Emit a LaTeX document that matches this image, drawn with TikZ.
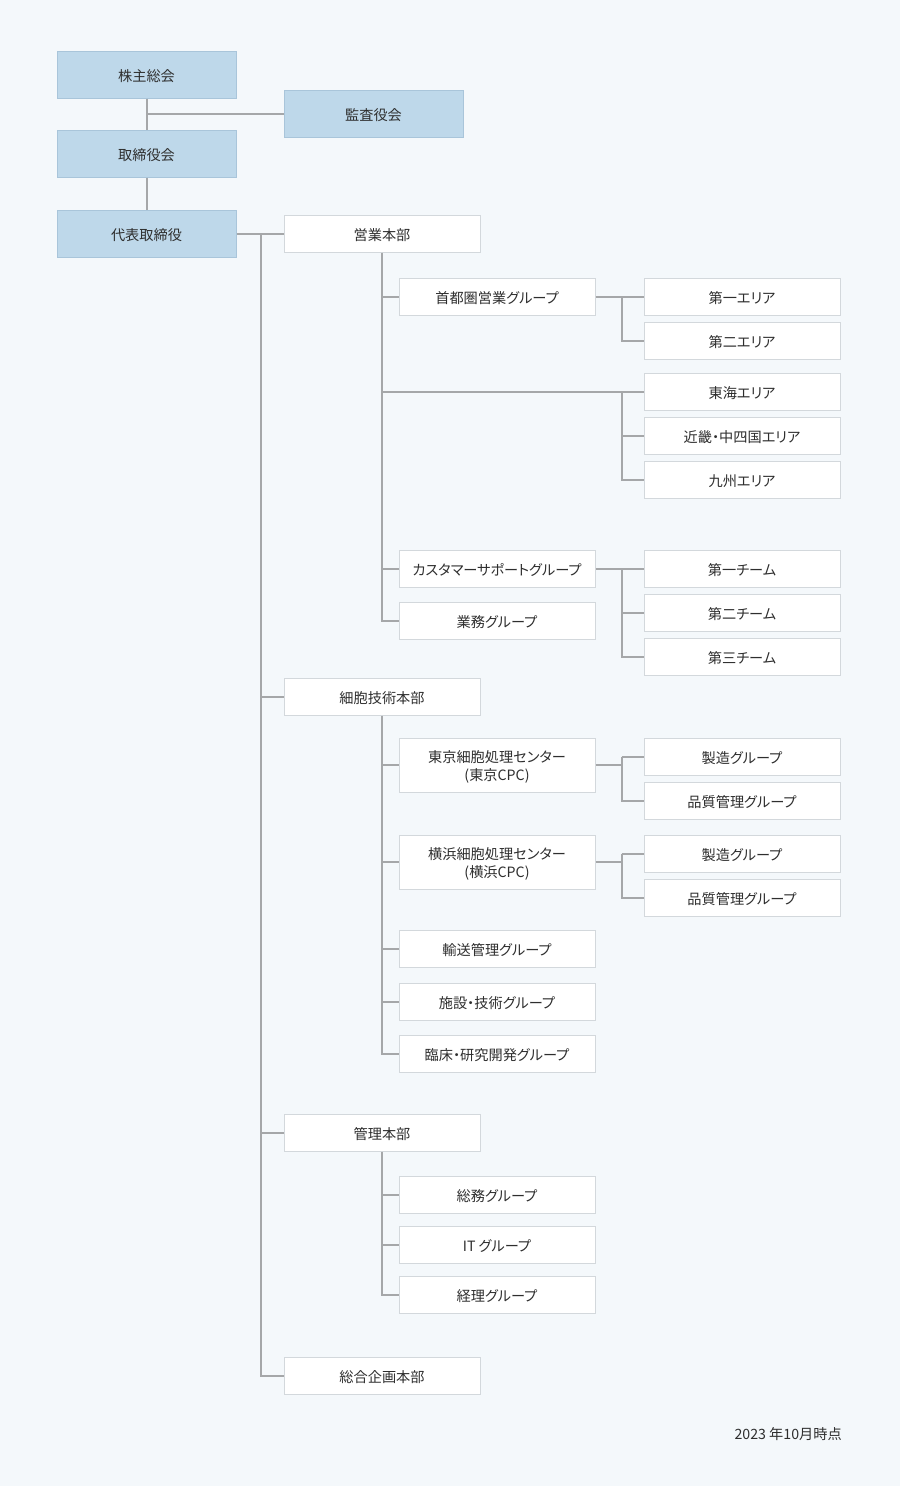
\documentclass[tikz,border=0pt]{standalone}
\usepackage{fontspec}
\setmainfont[RawFeature=+palt]{Noto Sans CJK JP}
\usetikzlibrary{calc}
\definecolor{bgcol}{HTML}{F4F8FB}
\definecolor{topfill}{HTML}{BED8EA}
\definecolor{topline}{HTML}{A9C5DA}
\definecolor{unitline}{HTML}{D3D8DC}
\definecolor{linecol}{HTML}{A5A7A9}
\definecolor{txtcol}{HTML}{2E2E2E}
\newcommand{\toplift}{\rule{0pt}{16.5pt}}

\begin{document}
\begin{tikzpicture}[x=1pt,y=-1pt]
        \tikzstyle{every node}+=[inner sep=0pt, text=txtcol, font=\fontsize{14.2}{18}\selectfont]
        \tikzstyle{oneline}=[text height=14.5pt, text depth=0.7pt]
        \tikzstyle{topbox}=[oneline, draw=topline, fill=topfill, line width=1pt, minimum width=179pt, minimum height=47pt]
        \tikzstyle{unitbox}=[oneline, draw=unitline, fill=white, line width=1pt, minimum width=196pt, minimum height=37pt]
        \tikzstyle{tallbox}=[draw=unitline, fill=white, line width=1pt, minimum width=196pt, minimum height=54pt, align=center]
        \tikzstyle{link}=[draw=linecol, line width=2pt]
        \fill [bgcol] (0,0) rectangle (900,1486);
        \node [topbox] (kabunushi) at (146.5,74.5) {株主総会};
        \node [topbox] (kansa) at (373.5,114) {監査役会};
        \node [topbox] (torishimari) at (146.5,153.5) {取締役会};
        \node [topbox] (daihyo) at (146.5,233.5) {代表取締役};
        \node [unitbox] (eigyo) at (382,233.5) {営業本部};
        \node [unitbox] (shuto) at (497,296.5) {首都圏営業グループ};
        \node [unitbox] (area1) at (742,296.5) {第一エリア};
        \node [unitbox] (area2) at (742,340.5) {第二エリア};
        \node [unitbox] (tokai) at (742,391.5) {東海エリア};
        \node [unitbox] (kinki) at (742,435.5) {近畿・中四国エリア};
        \node [unitbox] (kyushu) at (742,479.5) {九州エリア};
        \node [unitbox] (support) at (497,568.5) {カスタマーサポートグループ};
        \node [unitbox] (team1) at (742,568.5) {第一チーム};
        \node [unitbox] (team2) at (742,612.5) {第二チーム};
        \node [unitbox] (team3) at (742,656.5) {第三チーム};
        \node [unitbox] (gyomu) at (497,620.5) {業務グループ};
        \node [unitbox] (saibo) at (382,696.5) {細胞技術本部};
        \node [tallbox] (tcpc) at (497,765) {\toplift 東京細胞処理センター\\(東京CPC)};
        \node [unitbox] (tseizo) at (742,756.5) {製造グループ};
        \node [unitbox] (thinshitsu) at (742,800.5) {品質管理グループ};
        \node [tallbox] (ycpc) at (497,862) {\toplift 横浜細胞処理センター\\(横浜CPC)};
        \node [unitbox] (yseizo) at (742,853.5) {製造グループ};
        \node [unitbox] (yhinshitsu) at (742,897.5) {品質管理グループ};
        \node [unitbox] (yuso) at (497,948.5) {輸送管理グループ};
        \node [unitbox] (shisetsu) at (497,1001.5) {施設・技術グループ};
        \node [unitbox] (rinsho) at (497,1053.5) {臨床・研究開発グループ};
        \node [unitbox] (kanri) at (382,1132.5) {管理本部};
        \node [unitbox] (somu) at (497,1194.5) {総務グループ};
        \node [unitbox] (itgrp) at (497,1244.5) {IT グループ};
        \node [unitbox] (keiri) at (497,1294.5) {経理グループ};
        \node [unitbox] (kikaku) at (382,1375.5) {総合企画本部};
        \node [oneline, anchor=east] (asof) at (842,1432.5) {2023 年10月時点};
        \coordinate (spine) at (261,0);
        \draw [link] (kabunushi.south) -- (torishimari.north);
        \draw [link] (kansa.west) -- (kabunushi.south |- kansa.west);
        \draw [link] (torishimari.south) -- (daihyo.north);
        \draw [link] (daihyo.east) -- (eigyo.west);
        \draw [link] (spine |- eigyo.west) |- (kikaku.west);
        \draw [link] (spine |- saibo.west) -- (saibo.west);
        \draw [link] (spine |- kanri.west) -- (kanri.west);
        \draw [link] (eigyo.south) |- (gyomu.west);
        \draw [link] (eigyo.south |- shuto.west) -- (shuto.west);
        \draw [link] (eigyo.south |- support.west) -- (support.west);
        \draw [link] (eigyo.south |- tokai.west) -- (tokai.west);
        \draw [link] (shuto.east) -- (area1.west);
        \draw [link] ([xshift=-22pt]area1.west) |- (area2.west);
        \draw [link] ([xshift=-22pt]tokai.west) |- (kyushu.west);
        \draw [link] ([xshift=-22pt]kinki.west) -- (kinki.west);
        \draw [link] (support.east) -- (team1.west);
        \draw [link] ([xshift=-22pt]team1.west) |- (team3.west);
        \draw [link] ([xshift=-22pt]team2.west) -- (team2.west);
        \draw [link] (saibo.south) |- (rinsho.west);
        \draw [link] (saibo.south |- tcpc.west) -- (tcpc.west);
        \draw [link] (saibo.south |- ycpc.west) -- (ycpc.west);
        \draw [link] (saibo.south |- yuso.west) -- (yuso.west);
        \draw [link] (saibo.south |- shisetsu.west) -- (shisetsu.west);
        \draw [link] (tcpc.east) -- ([xshift=-22pt]tseizo.west |- tcpc.east);
        \draw [link] ([xshift=-22pt]tseizo.west) -- (tseizo.west);
        \draw [link] ([xshift=-22pt]tseizo.west) |- (thinshitsu.west);
        \draw [link] (ycpc.east) -- ([xshift=-22pt]yseizo.west |- ycpc.east);
        \draw [link] ([xshift=-22pt]yseizo.west) -- (yseizo.west);
        \draw [link] ([xshift=-22pt]yseizo.west) |- (yhinshitsu.west);
        \draw [link] (kanri.south) |- (keiri.west);
        \draw [link] (kanri.south |- somu.west) -- (somu.west);
        \draw [link] (kanri.south |- itgrp.west) -- (itgrp.west);
\end{tikzpicture}
\end{document}
